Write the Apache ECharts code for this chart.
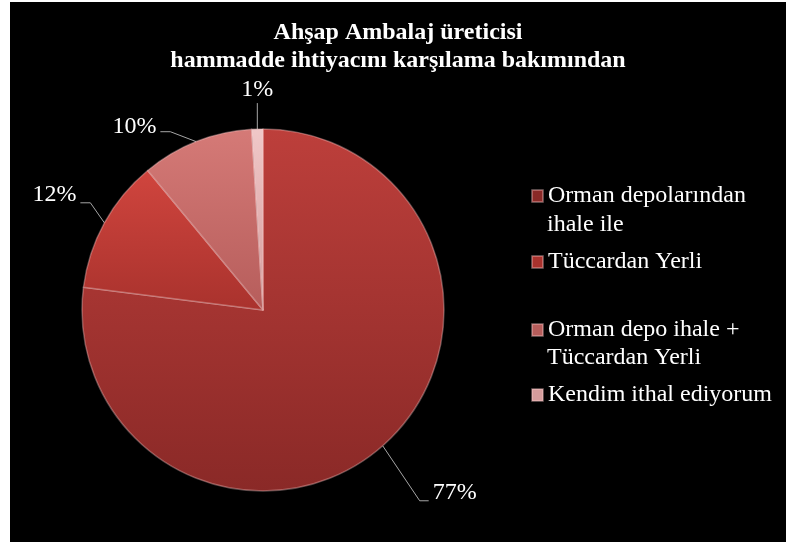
<!DOCTYPE html>
<html>
<head>
<meta charset="utf-8">
<script src="https://cdn.jsdelivr.net/npm/echarts@6/dist/echarts.min.js"></script>
<style>
  html, body { margin: 0; padding: 0; background: #ffffff; }
  #chart { position: absolute; left: 10px; top: 2px; width: 776px; height: 540px; }
</style>
</head>
<body>
<div id="chart"></div>
<script>
// === Данные
const CATEGORIES = [
    "Orman depolarından ihale ile",
    "Tüccardan Yerli",
    "Orman depo ihale + Tüccardan Yerli",
    "Kendim ithal ediyorum"
];
// строки легенды (как перенесено в оригинале)
const LEGEND_LINES = [
    ["Orman depolarından", "ihale ile"],
    ["Tüccardan Yerli"],
    ["Orman depo ihale +", "Tüccardan Yerli"],
    ["Kendim ithal ediyorum"]
];
const VALUES = [77, 12, 10, 1];
const COLORS = [
    ['#bd3f3b', '#8a2927'],
    ['#d0453e', '#a9322d'],
    ['#d57a77', '#b65d5b'],
    ['#f0c8c8', '#d49c9c']
];

const FONT = '"Liberation Serif", "Times New Roman", serif';

function sliceColor(pair) {
    return new echarts.graphic.LinearGradient(0, 0, 0, 1, [
        { offset: 0, color: pair[0] },
        { offset: 1, color: pair[1] }
    ]);
}

// выносные линии: смещение первого отрезка от края сектора, горизонтальный хвост, подъём подписи
const LINE_SHAPE = [
    [37, 55, 9, -8],
    [-14, -20, -10, -8],
    [-26, -10, -10, -5],
    [0, -26, 0, -13]
];

const pieData = VALUES.map((v, i) => ({
    name: CATEGORIES[i],
    value: v,
    itemStyle: { color: sliceColor(COLORS[i]) }
}));

// по одной легенде на строку; у второй строки значка нет
const LEGEND_TOPS = [[180, 209], [246], [314, 342], [379]];
const legends = [];
CATEGORIES.forEach((name, i) => {
    LEGEND_LINES[i].forEach((line, j) => {
        legends.push({
            data: [{ name: name, itemStyle: { color: COLORS[i][1] } }],
            left: 521,
            top: LEGEND_TOPS[i][j],
            padding: 0,
            icon: j === 0 ? 'rect' : 'none',
            itemWidth: 11,
            itemHeight: 12,
            selectedMode: false,
            formatter: () => line,
            textStyle: {
                color: '#ffffff',
                fontFamily: FONT,
                fontSize: 24,
                lineHeight: 28
            }
        });
    });
});

const chart = echarts.init(document.getElementById('chart'));
chart.setOption({
    backgroundColor: '#000000',
    animation: false,
    title: {
        text: 'Ahşap Ambalaj üreticisi\nhammadde ihtiyacını karşılama bakımından',
        left: 'center',
        top: 12,
        textStyle: {
            color: '#ffffff',
            fontFamily: FONT,
            fontWeight: 'bold',
            fontSize: 24,
            lineHeight: 28
        }
    },
    legend: legends,
    series: [{
        type: 'pie',
        center: [253, 308],
        radius: 181,
        startAngle: 90,
        clockwise: true,
        data: pieData,
        itemStyle: {
            borderColor: 'rgba(255,210,210,0.35)',
            borderWidth: 1.5
        },
        label: {
            show: true,
            position: 'outside',
            formatter: '{c}%',
            color: '#ffffff',
            fontFamily: FONT,
            fontSize: 24,
            overflow: 'none'
        },
        labelLine: {
            show: true,
            lineStyle: { color: '#a6a6a6', width: 1 }
        },
        labelLayout: function (params) {
            const p0 = params.labelLinePoints[0];
            const s = LINE_SHAPE[params.dataIndex];
            const p1 = [p0[0] + s[0], p0[1] + s[1]];
            const p2 = [p1[0] + s[2], p1[1]];
            if (s[2] === 0) {
                // подпись прямо над сектором
                return {
                    x: p2[0], y: p2[1] + s[3],
                    align: 'center', verticalAlign: 'middle',
                    labelLinePoints: [p0, p1, p2]
                };
            }
            const right = s[2] > 0;
            return {
                x: p2[0] + (right ? 4 : -4),
                y: p2[1] + s[3],
                align: right ? 'left' : 'right',
                verticalAlign: 'middle',
                labelLinePoints: [p0, p1, p2]
            };
        }
    }]
});
</script>
</body>
</html>
